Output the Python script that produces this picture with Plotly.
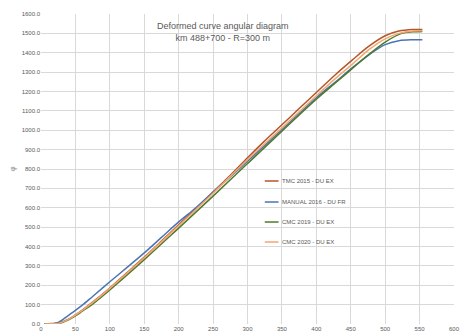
import plotly.graph_objects as go

# Chainage (m) along the curve and cumulative angle for each survey
x_tmc2015 = [5, 15, 25, 40, 50, 60, 75, 100, 125, 150, 175, 200, 225, 250, 275, 300,
             325, 350, 375, 400, 428, 452, 476, 500, 520, 540, 554]
y_tmc2015 = [0, 1, 4, 25, 47, 72, 113, 186, 265, 345, 428, 512, 597, 682, 768, 858,
             945, 1028, 1112, 1195, 1288, 1362, 1433, 1488, 1512, 1520, 1520]

x_manual2016 = [5, 15, 25, 40, 50, 60, 75, 100, 125, 150, 175, 200, 225, 250, 300,
                350, 400, 428, 452, 476, 500, 520, 540, 554]
y_manual2016 = [0, 2, 8, 45, 70, 97, 142, 218, 292, 367, 447, 527, 600, 680, 840,
                1003, 1168, 1250, 1322, 1388, 1442, 1462, 1467, 1467]

x_cmc2019 = [5, 15, 25, 40, 50, 60, 75, 100, 150, 200, 250, 300, 350, 400, 428,
             452, 476, 500, 524, 540, 554]
y_cmc2019 = [0, 1, 2, 22, 42, 66, 103, 176, 332, 495, 660, 828, 995, 1160, 1245,
             1318, 1390, 1455, 1500, 1508, 1510]

x_cmc2020 = [5, 15, 25, 40, 50, 60, 75, 100, 150, 200, 250, 300, 350, 400, 428,
             452, 476, 500, 520, 540, 554]
y_cmc2020 = [0, 1, 3, 24, 46, 70, 110, 184, 342, 507, 675, 848, 1012, 1178, 1268,
             1340, 1415, 1472, 1500, 1512, 1513]

series = [
    ("TMC 2015 - DU EX", x_tmc2015, y_tmc2015, "#B5562A"),
    ("MANUAL 2016 - DU FR", x_manual2016, y_manual2016, "#4A75B5"),
    ("CMC 2019 - DU EX", x_cmc2019, y_cmc2019, "#4E7A2C"),
    ("CMC 2020 - DU EX", x_cmc2020, y_cmc2020, "#F2A772"),
]

grey = "#595959"

fig = go.Figure()
for name, xs, ys, color in series:
    fig.add_trace(go.Scatter(x=xs, y=ys, mode="lines", name=name, showlegend=False,
                             line=dict(color=color, width=1.5, shape="spline")))

# Legend keys: short line + label, stacked inside the plot area
legend_x0, legend_x1, legend_tx = 0.5418, 0.5752, 0.5776
legend_rows = [0.4613, 0.3935, 0.329, 0.2645]
shapes, annotations = [], []
for (name, _, _, color), ly in zip(series, legend_rows):
    shapes.append(dict(type="line", xref="paper", yref="paper",
                       x0=legend_x0, x1=legend_x1, y0=ly, y1=ly,
                       line=dict(color=color, width=1.5)))
    annotations.append(dict(text=name, x=legend_tx, y=ly, xref="paper", yref="paper",
                            xanchor="left", yanchor="middle", showarrow=False,
                            font=dict(size=6, color=grey)))

annotations += [
    dict(text="Deformed curve angular diagram<br>km 488+700 - R=300 m",
         x=0.4415, y=0.984, xref="paper", yref="paper",
         showarrow=False, font=dict(size=9, color=grey), align="center"),
    dict(text="φ", x=-0.085, y=0.5, xref="paper", yref="paper",
         showarrow=False, textangle=-90, font=dict(size=8, color="#8a8a8a")),
]

fig.update_layout(
    width=463, height=336,
    margin=dict(l=41, r=3, t=14, b=12),
    paper_bgcolor="white", plot_bgcolor="white",
    font=dict(family="Liberation Sans", size=6, color=grey),
    showlegend=False,
    shapes=shapes,
    annotations=annotations,
)
fig.update_xaxes(range=[0, 600], dtick=50, showgrid=True, gridcolor="#D9D9D9",
                 gridwidth=1, zeroline=False, showline=False, ticks="",
                 ticklabeloverflow="allow",
                 tickfont=dict(size=6, color=grey))
fig.update_yaxes(range=[0, 1600], dtick=100, tickformat=".1f", showgrid=True,
                 gridcolor="#D9D9D9", gridwidth=1, zeroline=False, showline=False,
                 ticks="", ticklabeloverflow="allow",
                 tickfont=dict(size=6, color=grey))

fig.write_html("out.html")
